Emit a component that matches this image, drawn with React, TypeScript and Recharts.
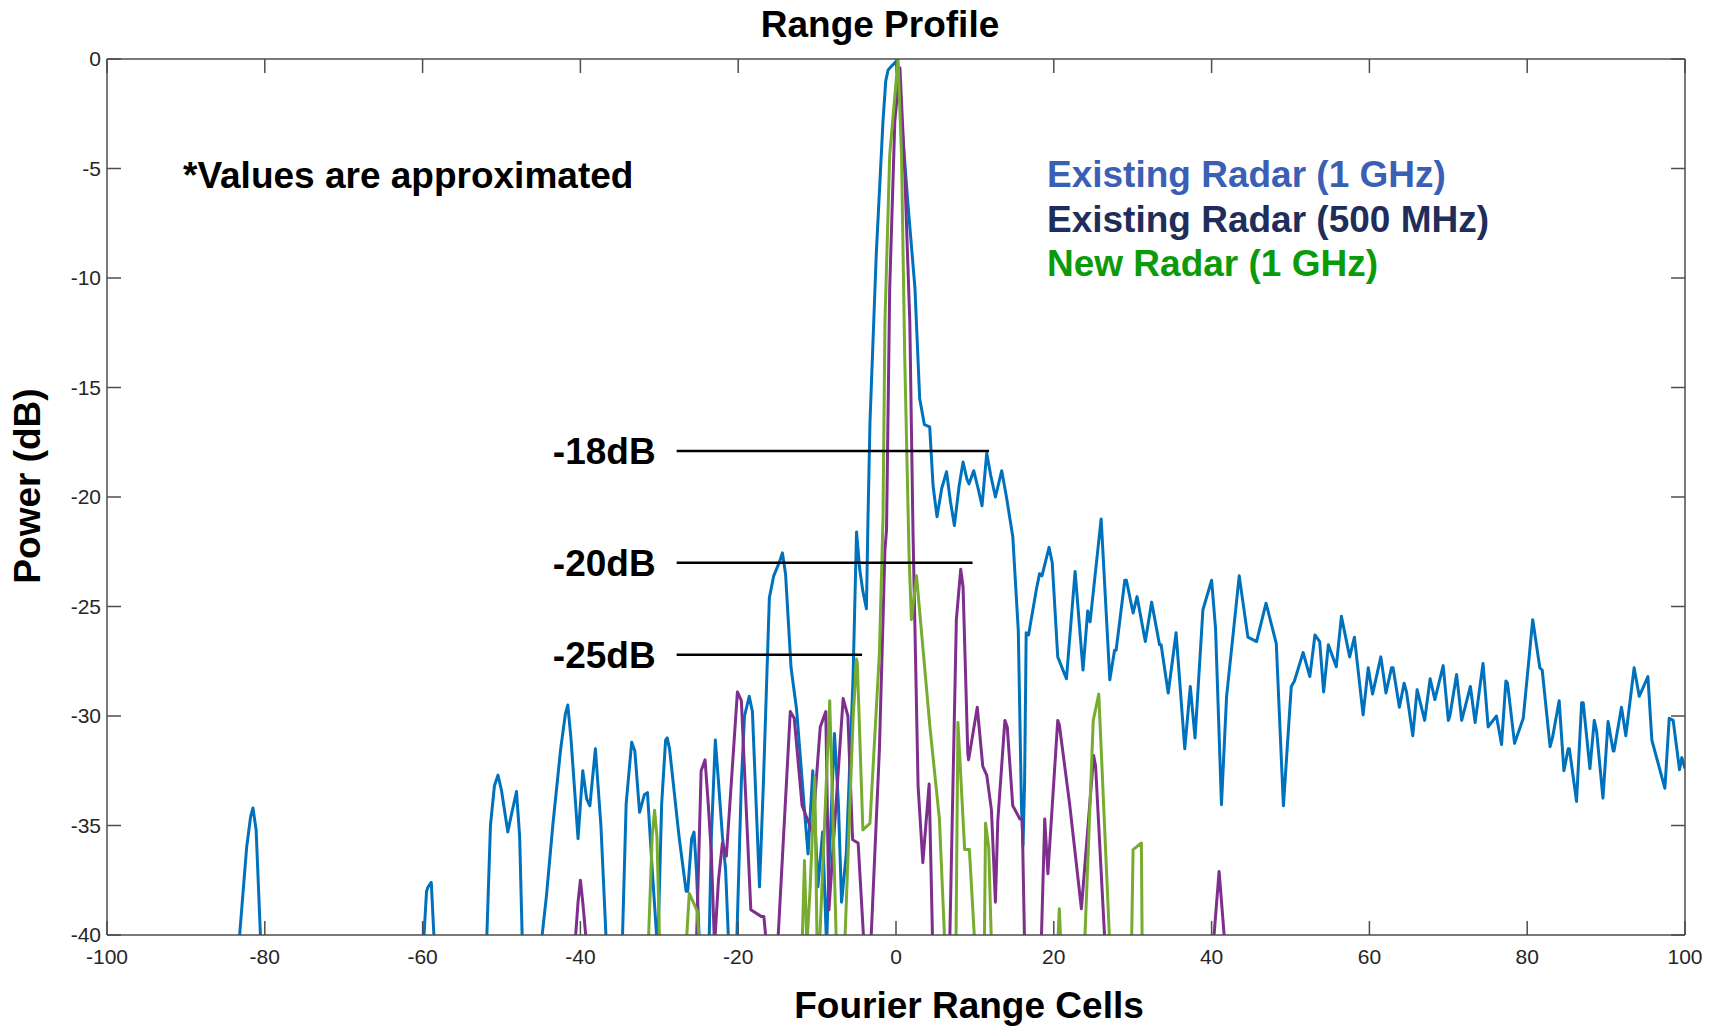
import { LineChart, Line, XAxis, YAxis, ReferenceLine, Legend } from 'recharts';

// [range cell, power dB]; values below -40 just mean "off the bottom of the plot"
const existing1GHz: [number, number][] = [
  [-100, -60], [-84, -60], [-83.3, -40.5], [-82.3, -36], [-81.8, -34.6], [-81.5, -34.2], [-81.1, -35.2], [-80.5, -40.5], [-80, -60],
  [-61, -60], [-59.9, -40.5], [-59.5, -38], [-59.3, -37.8], [-58.9, -37.6], [-58.5, -40.5], [-58, -60],
  [-52.4, -60], [-51.9, -40.5], [-51.4, -35], [-50.9, -33.2], [-50.45, -32.7], [-50, -33.4], [-49.2, -35.3], [-48.8, -34.6],
  [-48.1, -33.45], [-47.7, -35.5], [-47.35, -40.5], [-46.8, -60],
  [-45.5, -60], [-45, -40.5], [-44.3, -38.2], [-43.5, -35], [-42.5, -31.5], [-41.9, -29.9], [-41.6, -29.5], [-41.2, -31],
  [-40.3, -35.6], [-39.7, -32.5], [-39.2, -33.8], [-38.8, -34.1], [-38.1, -31.5], [-37.4, -35], [-36.7, -40.5], [-36.2, -60],
  [-35.2, -60], [-34.7, -40.5], [-34.2, -34], [-33.5, -31.2], [-33.1, -31.6], [-32.5, -34.4], [-31.9, -33.6], [-31.5, -33.5],
  [-30.9, -37], [-30.2, -40.8], [-29.7, -34], [-29.2, -31.1], [-29, -31], [-28.7, -31.5], [-27.5, -35.5], [-26.6, -38],
  [-26.4, -38], [-25.9, -35.6], [-25.6, -35.3], [-25.3, -37], [-24.9, -40.5], [-24.4, -60],
  [-24.1, -60], [-23.7, -40.5], [-23.4, -35.5], [-22.9, -31.1], [-22.5, -33], [-22, -35.5], [-21.6, -37], [-21.2, -40.5], [-20.8, -60],
  [-20.6, -60], [-20.2, -40.5], [-19.6, -33], [-19.2, -30], [-18.6, -29.1], [-18.2, -29.8], [-17.3, -37.8], [-16.8, -33],
  [-16.05, -24.6], [-15.5, -23.6], [-14.8, -23], [-14.4, -22.55], [-14, -23.5], [-13.3, -27.8], [-12.6, -29.7], [-11.6, -34.3],
  [-11.15, -36.3], [-10.55, -32.5], [-9.9, -37.8], [-9.3, -35.3], [-8.8, -40.5], [-8.5, -37], [-7.8, -30.8], [-7.3, -34],
  [-6.9, -38.5], [-6.3, -36.3], [-5.45, -28.35], [-5, -21.6], [-4.6, -23.3], [-4.2, -24.3], [-3.75, -25.1], [-3.55, -21],
  [-3.3, -16.6], [-2.5, -8.9], [-1.65, -2.85], [-1.3, -1], [-1, -0.5], [-0.5, -0.3], [0.07, -0.1], [0.5, -1.8], [1, -4.2],
  [1.53, -6.7], [2.4, -10.45], [3, -15.5], [3.6, -16.7], [4.27, -16.8], [4.7, -19.5], [5.2, -20.9], [5.8, -19.6], [6.4, -18.85],
  [6.9, -20.2], [7.4, -21.3], [8, -19.5], [8.5, -18.4], [9, -19.2], [9.26, -19.4], [9.85, -18.8], [10.4, -19.6], [10.9, -20.4],
  [11.5, -18], [12, -19], [12.6, -20], [13.4, -18.8], [14, -20], [14.8, -21.8], [15.5, -26.1], [15.9, -34.1], [16.1, -35.9],
  [16.3, -33], [16.5, -26.2], [16.8, -26.3], [17.8, -24.2], [18.2, -23.5], [18.5, -23.6], [19.4, -22.3], [19.8, -23],
  [20.5, -27.3], [21.6, -28.3], [22.7, -23.4], [23.7, -27.9], [24.3, -25.2], [24.6, -25.7], [26, -21], [27.1, -28.35],
  [27.7, -27], [27.9, -27], [29, -23.8], [29.2, -23.8], [30.05, -25.3], [30.55, -24.55], [31.6, -26.6], [32.4, -24.8],
  [33.4, -26.75], [33.6, -26.75], [34.5, -28.95], [35.5, -26.2], [36.6, -31.5], [37.3, -28.65], [37.9, -31], [38.9, -25.15],
  [40, -23.8], [40.5, -26], [41.25, -34.05], [41.9, -29.1], [43.5, -23.6], [44.6, -26.4], [45.7, -26.6], [46.9, -24.85],
  [48.2, -26.7], [49.1, -34.1], [50.1, -28.65], [50.5, -28.4], [51.6, -27.1], [52.45, -28.2], [53.1, -26.3], [53.7, -26.6],
  [54.2, -28.9], [54.8, -26.75], [55.8, -27.75], [56.45, -25.45], [57.5, -27.3], [58.1, -26.4], [59.2, -29.95], [59.85, -27.8],
  [60.4, -29], [61.45, -27.3], [62.1, -28.95], [62.8, -27.8], [63, -27.8], [63.8, -29.6], [64.4, -28.5], [64.7, -28.9],
  [65.5, -30.9], [66.05, -28.8], [67, -30.2], [67.7, -28.3], [68.3, -29.25], [69.35, -27.7], [70, -30.2], [70.2, -30],
  [71.05, -28.1], [71.7, -30.2], [72.8, -28.65], [73.4, -30.3], [74.4, -27.6], [75.05, -30.5], [76.1, -30], [76.75, -31.3],
  [77.3, -28.4], [77.5, -28.5], [78.4, -31.25], [79.5, -30.1], [80.7, -25.6], [81.6, -27.8], [81.9, -27.9], [82.9, -31.4],
  [83.2, -31], [84.05, -29.3], [84.65, -32.5], [85.2, -31.5], [85.35, -31.5], [86.25, -33.9], [86.9, -29.4], [87.1, -29.4],
  [87.95, -32.4], [88.5, -30.2], [88.8, -30.7], [89.6, -33.75], [90.25, -30.25], [90.9, -31.6], [91, -31.6], [91.95, -29.6],
  [92.5, -30.9], [93.55, -27.8], [94.2, -29.1], [95.3, -28.2], [95.8, -31.1], [97.45, -33.3], [98, -30.1], [98.5, -30.2],
  [99.3, -32.45], [99.6, -31.9], [100, -32.4],
];

const existing500MHz: [number, number][] = [
  [-100, -60], [-41, -60], [-40.7, -40.5], [-40.3, -38.5], [-40, -37.5], [-39.7, -38.5], [-39.2, -40.5], [-39, -60],
  [-25.6, -60], [-25.3, -40.5], [-24.7, -32.5], [-24.2, -32], [-23.8, -34], [-23.4, -36.3], [-23, -40.5], [-22.5, -37.5],
  [-22, -35.8], [-21.5, -36.4], [-20.1, -28.9], [-19.6, -29.3], [-18.4, -38.85], [-17.1, -39.15], [-16.75, -39.15],
  [-16.4, -40.5], [-16, -60], [-15.4, -60], [-15, -40.5], [-13.4, -29.8], [-12.9, -30.1], [-11.9, -34.1], [-10.6, -35.3],
  [-9.6, -30.5], [-8.9, -29.8], [-8.5, -38.85], [-6.7, -29.2], [-6.1, -30], [-5.5, -35.65], [-4.8, -35.8], [-4.05, -40.5],
  [-3.6, -60], [-3.2, -40.5], [-2.1, -31.5], [-1.4, -22.4], [-1.2, -21.5], [-0.8, -10.5], [-0.15, -2.85], [0.5, -0.4],
  [1.1, -5.1], [1.75, -12], [2.15, -21.5], [2.8, -33.2], [3.4, -36.7], [4.2, -33.1], [4.65, -40.5], [5, -60],
  [6.4, -60], [6.8, -40.5], [7.65, -25.6], [8.2, -23.3], [8.5, -24.1], [9.1, -31.7], [9.2, -32], [10.3, -29.6], [11, -32.3],
  [11.5, -32.7], [12.1, -34.3], [12.6, -38.5], [12.9, -34.8], [13.8, -30.2], [14.1, -30.5], [14.8, -34.1], [15.7, -34.7],
  [16, -34.7], [16.3, -40.5], [16.6, -60], [18, -60], [18.4, -40.5], [18.85, -34.7], [19.25, -37.2], [20.5, -30.2],
  [20.7, -30.4], [22, -34], [23.5, -38.8], [25.05, -31.8], [25.3, -32.3], [26.5, -40.5], [27, -60],
  [39.8, -60], [40.2, -40.5], [40.95, -37.1], [41.7, -40.5], [42, -60], [100, -60],
];

const newRadar1GHz: [number, number][] = [
  [-100, -60], [-31.8, -60], [-31.4, -40.5], [-30.9, -35.5], [-30.6, -34.3], [-30.3, -35.5], [-29.95, -40.5], [-29.5, -60],
  [-27, -60], [-26.6, -40.5], [-26.2, -38.1], [-25.7, -38.5], [-25.2, -38.9], [-24.9, -40.5], [-24.5, -60],
  [-12.4, -60], [-11.9, -40.5], [-11.6, -36.6], [-11.3, -40.5], [-10.9, -38], [-10.3, -32.8], [-10, -40.5], [-9.7, -40.5],
  [-8.4, -29.3], [-7.55, -40.5], [-7.2, -60], [-6.8, -60], [-6.5, -40.5], [-5.45, -30.2], [-5, -27.4], [-4.9, -27.6],
  [-4.2, -35.2], [-3.3, -34.9], [-2.1, -27.1], [-1.65, -21], [-1.4, -12], [-0.8, -4.4], [0.26, 0], [0.7, -4.4], [1.1, -13.5],
  [1.65, -22.6], [1.95, -25.6], [2.6, -23.6], [4.3, -30.5], [5.5, -34.7], [6.2, -40.5], [6.6, -60],
  [7.4, -60], [7.6, -40.5], [7.85, -30.3], [8.7, -36.1], [9.3, -36.1], [10, -40.5], [10.4, -60],
  [11, -60], [11.2, -40.5], [11.35, -34.9], [11.75, -36], [12.1, -40.5], [12.4, -60],
  [20.3, -60], [20.5, -40.5], [20.7, -38.8], [20.9, -40.5], [21.1, -60],
  [23.6, -60], [23.9, -40.5], [25, -30.2], [25.7, -29], [27.1, -40.5], [27.4, -60],
  [29.6, -60], [29.85, -40.5], [30.05, -36.1], [31.1, -35.8], [31.2, -40.5], [31.5, -60], [100, -60],
];

const seriesNames = ['Existing Radar (1 GHz)', 'Existing Radar (500 MHz)', 'New Radar (1 GHz)'];
const xTicks = [-100, -80, -60, -40, -20, 0, 20, 40, 60, 80, 100];
const yTicks = [-40, -35, -30, -25, -20, -15, -10, -5, 0];

// sidelobe markers: label, level, start cell, end cell
const markerLabels = ['-18dB', '-20dB', '-25dB'];
const markerLevels = [-17.9, -23.0, -27.2];
const markerStarts = [-27.8, -27.8, -27.8];
const markerEnds = [11.8, 9.7, -4.3];

const FONT = '"Liberation Sans", Arial, sans-serif';
const lineColors = ['#0072BD', '#7E2F8E', '#77AC30'];
const legendTextColors = ['#3b5fb5', '#1f2d5a', '#0a9a0a'];
const axisColor = '#4d4d4d';

// inward tick length of the top / right box edges, in data units (~14px)
const TICK_DX = 1.77;
const TICK_DY = 0.64;

const toPoints = (arr: [number, number][]) => arr.map(([x, y]) => ({ x, y }));

const renderLegend = (props: any) => {
  const { payload } = props;
  return (
    <div style={{ fontFamily: FONT, fontWeight: 'bold', fontSize: 37, lineHeight: '44.5px', whiteSpace: 'nowrap' }}>
      {(payload || []).map((entry: any, i: number) => (
        <div key={entry.value} style={{ color: legendTextColors[i] }}>{entry.value}</div>
      ))}
    </div>
  );
};

const renderXLabel = (props: any) => {
  const { viewBox } = props;
  return (
    <text x={viewBox.x + viewBox.width / 2 + 73} y={viewBox.y + 83} textAnchor="middle"
      fontFamily={FONT} fontWeight="bold" fontSize={37} fill="#000">
      Fourier Range Cells
    </text>
  );
};

const renderYLabel = (props: any) => {
  const { viewBox } = props;
  const cx = viewBox.x + 27;
  const cy = viewBox.y + viewBox.height / 2 - 11;
  return (
    <text x={cx} y={cy} dy="0.36em" textAnchor="middle" transform={`rotate(-90, ${cx}, ${cy})`}
      fontFamily={FONT} fontWeight="bold" fontSize={37} fill="#000">
      Power (dB)
    </text>
  );
};

export default function App() {
  const seriesData = [existing1GHz, existing500MHz, newRadar1GHz];
  const tickStyle = { fill: '#262626', fontSize: 21, fontFamily: FONT };
  const axisLine = { stroke: axisColor, strokeWidth: 1.5 };

  return (
    <div style={{ position: 'absolute', left: 0, top: 0, width: 1719, height: 1026, background: '#fff', fontFamily: FONT }}>
      <div style={{ position: 'absolute', left: 880, top: 24, transform: 'translate(-50%, -50%)', fontSize: 37, fontWeight: 'bold', lineHeight: 1, whiteSpace: 'nowrap' }}>
        Range Profile
      </div>
      <div style={{ position: 'absolute', left: 183, top: 157, fontSize: 37, fontWeight: 'bold', lineHeight: '37px', whiteSpace: 'nowrap', zIndex: 2 }}>
        *Values are approximated
      </div>
      <LineChart width={1719} height={1026} margin={{ top: 58, right: 33, bottom: 0, left: 0 }}>
        <XAxis dataKey="x" type="number" domain={[-100, 100]} ticks={xTicks} interval={0} allowDataOverflow
          height={91} tickSize={-14} tickMargin={28} tick={tickStyle}
          axisLine={axisLine} tickLine={axisLine}
          label={{ content: renderXLabel }} />
        {/* top and right edges of the box */}
        <XAxis xAxisId="top" orientation="top" dataKey="x" type="number" domain={[-100, 100]}
          height={1} tick={false} tickLine={false} axisLine={axisLine} />
        <YAxis type="number" domain={[-40, 0]} ticks={yTicks} interval={0} allowDataOverflow
          width={107} tickSize={-14} tickMargin={20} tick={tickStyle}
          axisLine={axisLine} tickLine={axisLine}
          label={{ content: renderYLabel }} />
        <YAxis yAxisId="right" orientation="right" type="number" domain={[-40, 0]}
          width={1} tick={false} tickLine={false} axisLine={axisLine} />
        {xTicks.map((t) => (
          <ReferenceLine key={`tt${t}`} segment={[{ x: t, y: 0 }, { x: t, y: -TICK_DY }]}
            stroke={axisColor} strokeWidth={1.5} />
        ))}
        {yTicks.map((t) => (
          <ReferenceLine key={`rt${t}`} segment={[{ x: 100, y: t }, { x: 100 - TICK_DX, y: t }]}
            stroke={axisColor} strokeWidth={1.5} />
        ))}
        {seriesData.map((d, i) => (
          <Line key={seriesNames[i]} name={seriesNames[i]} data={toPoints(d)} dataKey="y" type="linear"
            stroke={lineColors[i]} strokeWidth={3} dot={false} activeDot={false}
            strokeLinejoin="round" isAnimationActive={false} />
        ))}
        {markerLabels.map((lbl, i) => (
          <ReferenceLine key={lbl}
            segment={[{ x: markerStarts[i], y: markerLevels[i] }, { x: markerEnds[i], y: markerLevels[i] }]}
            stroke="#000" strokeWidth={2.5}
            label={{ value: lbl, position: 'left', offset: 21, fill: '#000', fontSize: 37, fontWeight: 'bold', fontFamily: FONT }} />
        ))}
        <Legend layout="horizontal" verticalAlign="middle" align="center" content={renderLegend}
          wrapperStyle={{ left: 1047, top: 153, width: 'auto', height: 'auto' }} />
      </LineChart>
    </div>
  );
}
